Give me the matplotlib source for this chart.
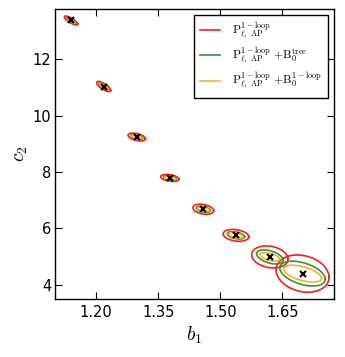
import numpy as np
import matplotlib
matplotlib.use('Agg')
import matplotlib.pyplot as plt

plt.rcParams['mathtext.fontset'] = 'cm'

# fiducial values (crosses)
b1_fid = [1.139, 1.218, 1.298, 1.378, 1.459, 1.538, 1.620, 1.699]
c2_fid = [13.37, 11.03, 9.24, 7.79, 6.68, 5.755, 4.99, 4.40]

# contour half-extents and correlation for each data combination
sig_b1_red = [0.016, 0.017, 0.021, 0.022, 0.025, 0.031, 0.044, 0.064]
sig_c2_red = [0.16, 0.18, 0.14, 0.125, 0.18, 0.21, 0.39, 0.66]
rho_red = [-0.8, -0.75, -0.45, -0.35, -0.3, -0.25, -0.2, -0.2]

sig_b1_green = [0.011, 0.012, 0.014, 0.015, 0.017, 0.021, 0.032, 0.055]
sig_c2_green = [0.11, 0.12, 0.09, 0.08, 0.11, 0.13, 0.25, 0.44]
rho_green = [-0.85, -0.8, -0.55, -0.5, -0.45, -0.4, -0.45, -0.45]

sig_b1_orange = [0.009, 0.010, 0.012, 0.013, 0.014, 0.017, 0.024, 0.046]
sig_c2_orange = [0.09, 0.10, 0.07, 0.06, 0.08, 0.10, 0.15, 0.30]
rho_orange = [-0.9, -0.85, -0.6, -0.55, -0.5, -0.5, -0.55, -0.55]

labels = [r'$\mathrm{P}^{\mathrm{1-loop}}_{\ell,\ \mathrm{AP}}$',
          r'$\mathrm{P}^{\mathrm{1-loop}}_{\ell,\ \mathrm{AP}}$ $+\mathrm{B}_0^{\mathrm{tree}}$',
          r'$\mathrm{P}^{\mathrm{1-loop}}_{\ell,\ \mathrm{AP}}$ $+\mathrm{B}_0^{\mathrm{1-loop}}$']
colors = ['#ff1a1a', '#2e9a2a', '#f7b233']

t = np.linspace(0, 2 * np.pi, 200)


def ellipse(ax, x0, y0, sx, sy, rho, color, label=None):
    # contour of a 2d gaussian with given bounding half-extents
    x = x0 + sx * np.cos(t)
    y = y0 + sy * (rho * np.cos(t) + np.sqrt(1 - rho**2) * np.sin(t))
    ax.plot(x, y, color=color, lw=1.2, label=label)


fig = plt.figure(figsize=(3.45, 3.57), dpi=100)
ax = fig.add_axes([0.159, 0.1625, 0.809, 0.8125])

sets = [(sig_b1_red, sig_c2_red, rho_red),
        (sig_b1_green, sig_c2_green, rho_green),
        (sig_b1_orange, sig_c2_orange, rho_orange)]

for k, (sx, sy, rr) in enumerate(sets):
    for i in range(len(b1_fid)):
        ellipse(ax, b1_fid[i], c2_fid[i], sx[i], sy[i], rr[i], colors[k],
                label=labels[k] if i == 0 else None)

ax.plot(b1_fid, c2_fid, 'x', color='k', ms=5, mew=1.5, ls='none')

ax.set_xlim(1.10, 1.775)
ax.set_ylim(3.5, 13.78)
ax.set_xticks([1.20, 1.35, 1.50, 1.65])
ax.set_xticklabels(['1.20', '1.35', '1.50', '1.65'])
ax.set_yticks([4, 6, 8, 10, 12])
ax.tick_params(direction='in', top=True, right=True, length=5, labelsize=10.5)
ax.tick_params(axis='x', pad=4)
ax.tick_params(axis='y', pad=2.5)
for s in ax.spines.values():
    s.set_linewidth(1.0)

ax.set_xlabel(r'$b_1$', fontsize=14, labelpad=4)
ax.set_ylabel(r'$c_2$', fontsize=14, labelpad=2)

leg = ax.legend(loc='upper right', fontsize=8.5, handlelength=1.7, fancybox=False,
                edgecolor='k', framealpha=1, borderpad=0.5, labelspacing=0.35,
                handletextpad=1.0, borderaxespad=0.5)
leg.get_frame().set_linewidth(1.0)

fig.savefig('out.png', dpi=100)
